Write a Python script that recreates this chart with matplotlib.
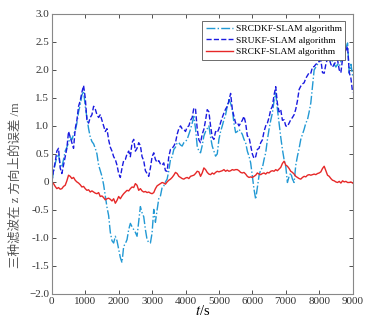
import numpy as np
import matplotlib
matplotlib.use("Agg")
import matplotlib.pyplot as plt

# time axis (s), one reading every 50 s
t = np.arange(0, 9001, 50)

# SRCDKF-SLAM error (m)
srcdkf = [0.00, 0.18, 0.32, 0.45, 0.50, 0.30, 0.26, 0.40, 0.55, 0.62,
          0.70, 0.80, 0.75, 0.85, 0.91, 1.05, 1.25, 1.38, 1.55, 1.62,
          1.35, 1.15, 0.95, 0.80, 0.72, 0.68, 0.60, 0.50, 0.30, 0.20,
          0.10, -0.05, -0.25, -0.45, -0.60, -0.90, -1.05, -1.09, -0.97, -1.05,
          -1.20, -1.35, -1.44, -1.15, -1.10, -1.03, -0.85, -0.74, -0.80, -0.85,
          -0.90, -0.97, -0.70, -0.44, -0.55, -0.62, -0.85, -1.03, -1.08, -1.09,
          -0.91, -0.49, -0.72, -0.50, -0.30, -0.25, -0.10, -0.07, 0.00, 0.05,
          0.20, 0.40, 0.45, 0.58, 0.62, 0.70, 0.70, 0.66, 0.64, 0.70,
          0.72, 0.76, 0.85, 0.94, 1.05, 1.17, 0.95, 0.64, 0.55, 0.52,
          0.65, 0.82, 0.90, 0.95, 1.00, 0.80, 0.64, 0.55, 0.46, 0.50,
          0.76, 0.90, 1.00, 1.11, 1.20, 1.35, 1.47, 1.40, 1.29, 1.05,
          0.88, 0.90, 0.94, 0.90, 0.85, 0.76, 0.70, 0.55, 0.46, 0.34,
          0.10, -0.13, -0.31, -0.10, 0.11, 0.22, 0.25, 0.40, 0.52, 0.75,
          0.94, 1.10, 1.23, 1.45, 1.59, 1.30, 1.05, 0.80, 0.58, 0.40,
          0.28, -0.01, 0.10, 0.16, 0.05, -0.01, 0.30, 0.46, 0.60, 0.76,
          0.85, 0.94, 1.05, 1.11, 1.25, 1.41, 1.70, 2.00, 2.05, 2.10,
          2.15, 2.18, 2.20, 2.25, 2.30, 2.25, 2.30, 2.20, 2.15, 2.10,
          2.05, 2.10, 2.06, 2.15, 2.24, 2.30, 2.40, 2.48, 1.94, 2.10,
          1.90]

# SRUKF-SLAM error (m)
srukf = [0.00, 0.20, 0.35, 0.55, 0.60, 0.25, 0.15, 0.30, 0.45, 0.60,
         0.90, 0.80, 0.70, 0.60, 0.95, 1.10, 1.35, 1.45, 1.60, 1.72,
         1.50, 1.10, 1.05, 1.15, 1.20, 1.35, 1.30, 1.20, 1.15, 1.20,
         1.10, 1.00, 0.90, 0.95, 0.75, 0.62, 0.55, 0.45, 0.40, 0.30,
         0.15, 0.08, 0.25, 0.38, 0.40, 0.50, 0.55, 0.45, 0.70, 0.76,
         0.55, 0.60, 0.70, 0.65, 0.45, 0.38, 0.20, 0.15, 0.10, 0.25,
         0.45, 0.52, 0.40, 0.35, 0.38, 0.32, 0.30, 0.34, 0.20, 0.19,
         0.45, 0.58, 0.60, 0.64, 0.70, 0.85, 0.95, 1.00, 0.95, 0.94,
         0.90, 0.98, 1.00, 1.10, 1.15, 1.32, 1.30, 0.95, 0.75, 0.70,
         0.85, 0.94, 1.10, 1.29, 1.25, 1.00, 0.80, 0.76, 0.90, 0.88,
         0.95, 1.06, 1.15, 1.23, 1.30, 1.35, 1.45, 1.58, 1.30, 1.17,
         1.05, 1.06, 1.00, 1.05, 1.10, 1.17, 1.05, 0.82, 0.80, 0.65,
         0.50, 0.42, 0.45, 0.58, 0.60, 0.70, 0.75, 0.90, 1.00, 1.05,
         1.15, 1.29, 1.35, 1.55, 1.70, 1.40, 1.25, 1.29, 1.10, 1.11,
         1.00, 0.99, 1.05, 1.11, 1.15, 1.20, 1.30, 1.45, 1.65, 1.71,
         1.75, 1.77, 1.85, 1.90, 1.95, 1.94, 2.05, 2.06, 2.10, 2.12,
         2.15, 2.18, 1.95, 1.94, 2.10, 2.20, 2.20, 2.10, 2.05, 2.10,
         2.15, 2.18, 2.00, 1.95, 2.20, 2.30, 2.35, 2.42, 1.95, 1.85,
         1.60]

# SRCKF-SLAM error (m)
srckf = [0.00, -0.03, -0.08, -0.12, -0.10, -0.13, -0.12, -0.08, -0.06, 0.02,
         0.12, 0.10, 0.06, 0.08, 0.03, 0.00, -0.02, -0.05, -0.09, -0.08,
         -0.12, -0.15, -0.14, -0.18, -0.16, -0.18, -0.20, -0.21, -0.19, -0.26,
         -0.25, -0.28, -0.32, -0.30, -0.29, -0.31, -0.34, -0.30, -0.38, -0.33,
         -0.26, -0.30, -0.25, -0.21, -0.18, -0.15, -0.16, -0.12, -0.09, -0.10,
         -0.03, -0.06, -0.15, -0.12, -0.16, -0.18, -0.17, -0.19, -0.18, -0.20,
         -0.21, -0.19, -0.12, -0.07, -0.05, -0.03, -0.01, -0.02, -0.04, 0.00,
         0.03, 0.05, 0.08, 0.12, 0.17, 0.15, 0.10, 0.08, 0.06, 0.05,
         0.07, 0.08, 0.06, 0.10, 0.11, 0.12, 0.15, 0.19, 0.18, 0.10,
         0.16, 0.25, 0.22, 0.17, 0.14, 0.13, 0.16, 0.14, 0.17, 0.19,
         0.18, 0.19, 0.20, 0.22, 0.19, 0.21, 0.19, 0.20, 0.22, 0.21,
         0.22, 0.22, 0.20, 0.17, 0.16, 0.17, 0.14, 0.10, 0.08, 0.09,
         0.08, 0.10, 0.12, 0.16, 0.14, 0.13, 0.15, 0.16, 0.14, 0.17,
         0.16, 0.19, 0.20, 0.19, 0.22, 0.20, 0.23, 0.26, 0.33, 0.37,
         0.30, 0.28, 0.24, 0.19, 0.17, 0.14, 0.10, 0.08, 0.06, 0.05,
         0.08, 0.10, 0.09, 0.12, 0.13, 0.12, 0.13, 0.14, 0.13, 0.15,
         0.16, 0.18, 0.24, 0.28, 0.20, 0.12, 0.10, 0.06, 0.03, 0.02,
         0.00, -0.01, 0.01, -0.02, 0.02, 0.00, 0.01, -0.01, -0.01, 0.00,
         -0.02]

labels = ["SRCDKF-SLAM algorithm", "SRUKF-SLAM algorithm", "SRCKF-SLAM algorithm"]
yticks = [-2.0, -1.5, -1.0, -0.5, 0, 0.5, 1.0, 1.5, 2.0, 2.5, 3.0]
ytick_labels = ["\u22122.0", "-1.5", "-1.0", "-0.5", "0", "0.5", "1.0", "1.5", "2.0", "2.5", "3.0"]
xticks = np.arange(0, 9001, 1000)

plt.rcParams['font.family'] = ['Liberation Serif', 'Noto Sans CJK SC']
plt.rcParams['mathtext.fontset'] = 'stix'

fig = plt.figure(figsize=(3.65, 3.22), dpi=100)
ax = fig.add_axes([0.142, 0.087, 0.824, 0.87])

ax.plot(t, srcdkf, color='#2299d4', ls='-.', lw=1.0, label=labels[0])
ax.plot(t, srukf, color='#1a1ae0', ls='--', lw=1.0, label=labels[1])
ax.plot(t, srckf, color='#e62828', ls='-', lw=1.0, label=labels[2])

ax.set_xlim(0, 9000)
ax.set_ylim(-2, 3)
ax.set_xticks(xticks)
ax.set_yticks(yticks)
ax.set_yticklabels(ytick_labels)
ax.tick_params(direction='in', top=True, right=True, labelsize=8,
               length=3, width=0.6, colors='#333333', pad=2)
for s in ax.spines.values():
    s.set_color('#888888')
    s.set_linewidth(0.8)

ax.set_xlabel('$t$/s', fontsize=10.5, labelpad=-1)
ax.set_ylabel('三种滤波在 z 方向上的误差 /m', fontsize=9, color='#555555')
ax.yaxis.set_label_coords(-0.1, 0.39)

leg = ax.legend(loc='upper right', fontsize=6.8, frameon=True, fancybox=False,
                edgecolor='#555555', framealpha=1, handlelength=2.9,
                handletextpad=0.3, borderpad=0.35, labelspacing=0.3,
                borderaxespad=0.8)
leg.get_frame().set_linewidth(0.6)

plt.savefig("out.png", dpi=100)
